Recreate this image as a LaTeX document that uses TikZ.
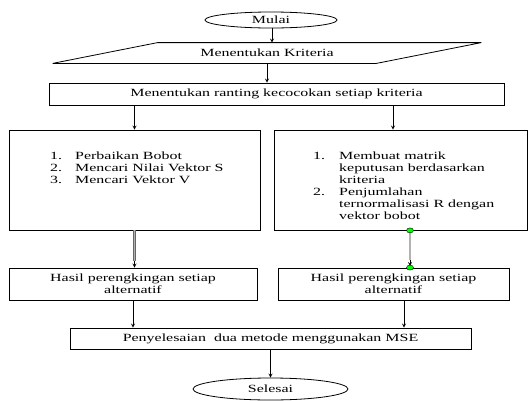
\documentclass[tikz,border=0pt]{standalone}
\usepackage{fontspec}
\setmainfont[FakeStretch=1.45]{Liberation Serif}
\usetikzlibrary{shapes, arrows, calc, positioning}

\begin{document}
\begin{tikzpicture}[>=stealth, x=1pt, y=-1pt, font=\fontsize{11}{12}\selectfont]
    \tikzstyle{box} = [draw, thick, rectangle, inner sep=0pt]
    \tikzstyle{term} = [draw, thick, ellipse, inner sep=0pt]
    \tikzstyle{list} = [anchor=north west, inner sep=0pt]
    \tikzstyle{gline} = [draw=black!60, line width=0.6pt, double=gray!60, double distance=1.2pt]
    \tikzstyle{dot} = [draw, fill=green, ellipse, minimum width=7pt,
	minimum height=5pt, inner sep=0pt]

	\useasboundingbox (0,0) rectangle (531,400);

	\begin{scope}
		\path[->, thick]
			node[term, minimum width=132, minimum height=16] (mulai) at (271,20) {Mulai}
			node[minimum width=323, minimum height=20, inner sep=0pt] (kri) at (267,53) {Menentukan Kriteria}
			node[box, minimum width=455, minimum height=22] (rate) at (276.5,94) {Menentukan ranting kecocokan setiap kriteria}

			node[box, minimum width=251, minimum height=100] (lbox) at (134.5,180) {}
			node[box, minimum width=253, minimum height=100] (rbox) at (400.5,180) {}

			node[box, minimum width=248, minimum height=32, align=center] (lhasil) at (133,284) {Hasil perengkingan setiap\\alternatif}
			node[box, minimum width=231, minimum height=32, align=center] (rhasil) at (393.5,284) {Hasil perengkingan setiap\\alternatif}

			node[box, minimum width=401, minimum height=21] (mse) at (270.5,338.5) {Penyelesaian\ \ dua metode menggunakan MSE}
			node[term, minimum width=155, minimum height=22] (selesai) at (270.5,389) {Selesai}

			(mulai.south -| 272,0) edge (272,0 |- kri.north)
			(kri.south) edge (kri.south |- rate.north)
			(rate.south -| lbox.north) edge (lbox.north)
			([xshift=-7.5]rate.south -| rbox.north) edge ([xshift=-7.5]rbox.north)
			(lhasil.south) edge (lhasil.south |- mse.north)
			([xshift=10.5]rhasil.south) edge ([xshift=10.5]rhasil.south |- mse.north)
			(mse.south) edge (mse.south |- selesai.north)
		;

		% parallelogram round the criteria text
		\draw[thick] ([xshift=52.5]kri.north west) -- ([xshift=52.5]kri.north east)
			-- ([xshift=-52.5]kri.south east) -- ([xshift=-52.5]kri.south west) -- cycle;

		% grey connectors into the result boxes
		\coordinate (ltop) at (lbox.south);
		\coordinate (lend) at (lbox.south |- lhasil.north);
		\coordinate (rtop) at ([xshift=9.5]rbox.south);
		\coordinate (rend) at ([xshift=9.5]rbox.south |- rhasil.north);
		\draw[->, thick] (ltop) -- (lend);
		\draw[gline] (ltop) -- ($(lend)+(0,-7)$);
		\draw[->, thick] (rtop) -- ($(rend)+(0,-1.5)$);
		\draw[gline] (rtop) -- ($(rend)+(0,-8)$);
		\node[dot] (dotA) at (rtop) {};
		\node[dot] (dotB) at (rend) {};

		\node[list] (llist) at ([xshift=-84.5,yshift=-21]lbox.north) {%
			\begin{tabular}{@{}p{25pt}@{}l@{}}
			1. & Perbaikan Bobot\\
			2. & Mencari Nilai Vektor S\\
			3. & Mencari Vektor V
			\end{tabular}};
		\node[list] (rlist) at ([xshift=-87.5,yshift=-21]rbox.north) {%
			\begin{tabular}{@{}p{26pt}@{}l@{}}
			1. & Membuat matrik\\
			   & keputusan berdasarkan\\
			   & kriteria\\
			2. & Penjumlahan\\
			   & ternormalisasi R dengan\\
			   & vektor bobot
			\end{tabular}};
	\end{scope}
\end{tikzpicture}
\end{document}
